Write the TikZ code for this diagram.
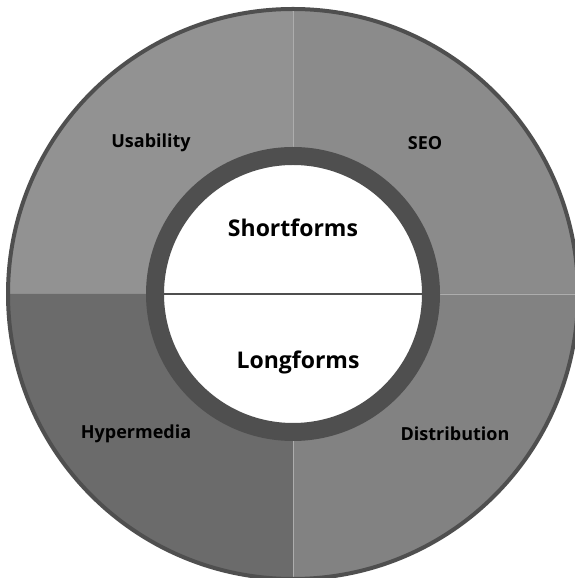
\documentclass[tikz,border=0pt]{standalone}
\usepackage{fontspec}
\setmainfont{Open Sans}
\usepackage{tikz}
\usetikzlibrary{shapes}
\usetikzlibrary{positioning}
\definecolor{ringgray}{HTML}{4F4F4F}
\definecolor{usegray}{HTML}{929292}
\definecolor{seogray}{HTML}{8B8B8B}
\definecolor{hypgray}{HTML}{6B6B6B}
\definecolor{disgray}{HTML}{828282}

\begin{document}
\begin{tikzpicture}[x=1pt,y=1pt]
\tikzset{
    quadrant/.style = {draw=white!25!usegray, line width=0.5pt},
    outerdisc/.style = {circle, draw=ringgray, line width=4pt, minimum size=570pt, inner sep=0pt},
    hub/.style = {circle, draw=ringgray, fill=white, line width=18pt, minimum size=276pt, inner sep=0pt},
    quadlabel/.style = {font=\fontsize{18}{21}\selectfont\bfseries, text=black},
    formlabel/.style = {font=\fontsize{23}{27}\selectfont\bfseries, text=black}
}
\useasboundingbox (0,0) rectangle (575,578);
\coordinate (c) at (293,284);
% four quadrants
\fill [usegray] (c) -- ++(180:285) arc (180:90:285) -- cycle;
\fill [seogray] (c) -- ++(90:285) arc (90:0:285) -- cycle;
\fill [hypgray] (c) -- ++(180:285) arc (180:270:285) -- cycle;
\fill [disgray] (c) -- ++(270:285) arc (270:360:285) -- cycle;
\draw [quadrant] (c) -- ++(90:283) (c) -- ++(0:283) (c) -- ++(270:283);
\node [outerdisc] (disc) at (c) {};
% centre
\node [hub] (core) at (c) {};
\draw [ringgray, line width=2pt, shorten <=9pt, shorten >=9pt] (core.west) -- (core.east);
\node [formlabel] (short) at (293,350) {Shortforms};
\node [formlabel] (long) at (298,216) {Longforms};
\node [quadlabel] (use) at (151,435) {Usability};
\node [quadlabel] (seo) at (425,435) {SEO};
\node [quadlabel] (hyp) at (136,144) {Hypermedia};
\node [quadlabel] (dist) at (455,144) {Distribution};
\end{tikzpicture}
\end{document}
